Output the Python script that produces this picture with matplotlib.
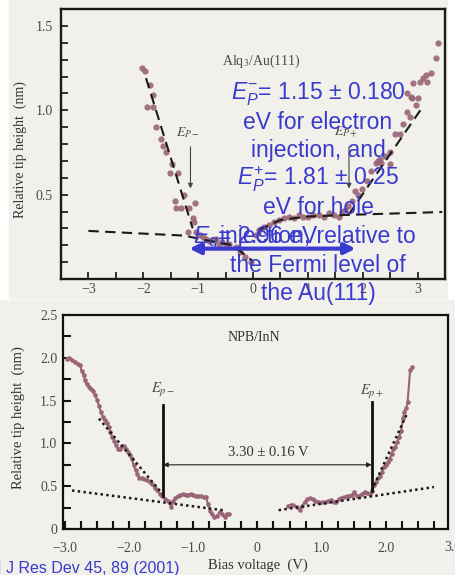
import matplotlib
matplotlib.use("Agg")
import matplotlib.pyplot as plt
from matplotlib.patches import Rectangle

plt.rcParams['mathtext.fontset'] = 'custom'
plt.rcParams['mathtext.rm'] = 'Liberation Sans'
plt.rcParams['mathtext.it'] = 'Liberation Sans:italic'
plt.rcParams['mathtext.bf'] = 'Liberation Sans:bold'

# ---- top panel: Alq3/Au(111) ----
alq_x = [-2.02, -1.97, -1.88, -1.83, -1.93, -1.82, -1.76, -1.68, -1.64, -1.58,
         -1.48, -1.52, -1.37, -1.25, -1.43, -1.05, -1.40, -1.31, -1.16, -1.10,
         -1.07, -1.19, -1.04, -0.97, -0.92, -0.86, -0.80, -0.74, -0.68, -0.62,
         -0.56, -0.50, -0.43, -0.31, -0.23, -0.14, -0.04,
         0.05, 0.11, 0.20, 0.29, 0.38, 0.47, 0.56, 0.65, 0.74, 0.83,
         0.92, 1.01, 1.10, 1.20, 1.29, 1.38, 1.47, 1.56, 1.62, 1.68,
         1.74, 1.80, 1.86, 1.92, 1.98, 2.07, 2.16, 2.25, 2.28, 2.31,
         2.34, 2.40, 2.49, 2.49, 2.59, 2.68, 2.74, 2.80, 2.86, 2.88,
         2.98, 2.80, 2.89, 3.01, 2.92, 3.05, 3.10, 3.16, 3.18, 3.25,
         3.34, 3.37]
alq_y = [1.25, 1.23, 1.15, 1.09, 1.02, 1.02, 0.90, 0.83, 0.79, 0.75,
         0.68, 0.63, 0.63, 0.50, 0.46, 0.45, 0.42, 0.42, 0.42, 0.36,
         0.34, 0.28, 0.28, 0.26, 0.25, 0.24, 0.225, 0.23, 0.24, 0.21,
         0.22, 0.20, 0.21, 0.19, 0.16, 0.13, 0.10,
         0.26, 0.29, 0.31, 0.32, 0.34, 0.35, 0.36, 0.37, 0.36, 0.38,
         0.37, 0.37, 0.38, 0.38, 0.37, 0.39, 0.38, 0.37, 0.40, 0.41,
         0.43, 0.46, 0.52, 0.50, 0.535, 0.58, 0.64, 0.69, 0.70, 0.71,
         0.69, 0.73, 0.68, 0.75, 0.86, 0.86, 0.92, 0.99, 0.96, 1.08,
         1.03, 1.10, 1.07, 1.07, 1.16, 1.17, 1.19, 1.21, 1.17, 1.22,
         1.31, 1.40]

alq_fit_left_x = [-1.95, -1.10]
alq_fit_left_y = [1.19, 0.30]
alq_base_left_x = [-3.0, -1.25, -0.86, -0.37, -0.02]
alq_base_left_y = [0.285, 0.257, 0.23, 0.20, 0.11]
alq_base_right_x = [0.10, 0.50, 1.00, 1.74, 3.45]
alq_base_right_y = [0.29, 0.35, 0.37, 0.38, 0.397]
alq_fit_right_x = [1.74, 3.05]
alq_fit_right_y = [0.38, 1.00]

# ---- bottom panel: NPB/InN ----
npb_left_x = [-2.97, -2.93, -2.89, -2.85, -2.80, -2.77, -2.74, -2.71, -2.69, -2.66,
              -2.62, -2.59, -2.56, -2.53, -2.50, -2.47, -2.44, -2.41, -2.38, -2.35,
              -2.32, -2.29, -2.26, -2.23, -2.20, -2.17, -2.14, -2.11, -2.08, -2.05,
              -2.02, -1.99, -1.96, -1.93, -1.90, -1.87, -1.84, -1.80, -1.76, -1.72,
              -1.68, -1.64, -1.60, -1.56, -1.52, -1.48, -1.44, -1.40, -1.37, -1.34,
              -1.31, -1.28, -1.24, -1.20, -1.16, -1.12, -1.08, -1.04, -1.00, -0.96,
              -0.92, -0.88, -0.84, -0.80, -0.77, -0.74, -0.71, -0.67, -0.63, -0.59,
              -0.55, -0.51, -0.48, -0.45]
npb_left_y = [1.99, 2.00, 1.98, 1.95, 1.93, 1.92, 1.85, 1.80, 1.74, 1.69,
              1.66, 1.64, 1.61, 1.57, 1.51, 1.44, 1.37, 1.31, 1.27, 1.24,
              1.19, 1.13, 1.07, 1.03, 0.98, 0.93, 0.94, 0.97, 0.97, 0.94,
              0.90, 0.87, 0.82, 0.75, 0.69, 0.64, 0.60, 0.59, 0.58, 0.57,
              0.55, 0.52, 0.48, 0.45, 0.41, 0.38, 0.35, 0.33, 0.30, 0.26,
              0.33, 0.36, 0.38, 0.40, 0.41, 0.40, 0.40, 0.41, 0.40, 0.38,
              0.39, 0.38, 0.37, 0.37, 0.29, 0.21, 0.17, 0.14, 0.15, 0.20,
              0.17, 0.14, 0.18, 0.17]
npb_right_x = [0.48, 0.52, 0.56, 0.61, 0.66, 0.70, 0.74, 0.78, 0.82, 0.86,
               0.90, 0.95, 1.00, 1.05, 1.10, 1.15, 1.19, 1.23, 1.27, 1.31,
               1.35, 1.39, 1.43, 1.47, 1.51, 1.55, 1.59, 1.63, 1.67, 1.71,
               1.75, 1.79, 1.82, 1.85, 1.88, 1.91, 1.94, 1.97, 2.00, 2.03,
               2.06, 2.09, 2.12, 2.15, 2.18, 2.21, 2.24, 2.27, 2.29, 2.32,
               2.34, 2.38, 2.41]
npb_right_y = [0.27, 0.28, 0.28, 0.26, 0.22, 0.27, 0.32, 0.35, 0.36, 0.35,
               0.33, 0.32, 0.31, 0.31, 0.33, 0.34, 0.31, 0.32, 0.35, 0.36,
               0.37, 0.38, 0.38, 0.40, 0.43, 0.39, 0.39, 0.41, 0.43, 0.42,
               0.41, 0.44, 0.51, 0.55, 0.59, 0.62, 0.67, 0.72, 0.75, 0.78,
               0.82, 0.88, 0.93, 0.96, 1.02, 1.08, 1.15, 1.30, 1.37, 1.41,
               1.48, 1.86, 1.89]

npb_fits = [([-2.47, -1.48], [1.29, 0.41]),
            ([-2.89, -0.54], [0.45, 0.22]),
            ([0.33, 2.75], [0.22, 0.49]),
            ([1.78, 2.34], [0.45, 1.36])]
ep_minus, ep_plus = -1.47, 1.78

W, H = 456, 575
cream = '#f1f0ea'
dot = '#9a6478'
blue = '#3a3acf'
grey = '#4a4a4a'
serif = 'Liberation Serif'

fig = plt.figure(figsize=(W / 100, H / 100), dpi=100, facecolor='white')
fig.patches.append(Rectangle((9 / W, 1 - 298 / H), 438 / W, 298 / H,
                             transform=fig.transFigure, color=cream, zorder=-5))
fig.patches.append(Rectangle((0, 0), 1, 1 - 300 / H,
                             transform=fig.transFigure, color=cream, zorder=-5))


def px(x, y):
    return x / W, 1 - y / H


# top axes
ax1 = fig.add_axes([61 / W, 1 - 279 / H, 384 / W, 270 / H])
ax1.set_facecolor('none')
ax1.plot(alq_x, alq_y, 'o', color=dot, ms=4.5, mec='none', alpha=0.9)
for xs, ys in [(alq_fit_left_x, alq_fit_left_y), (alq_base_left_x, alq_base_left_y),
               (alq_base_right_x, alq_base_right_y), (alq_fit_right_x, alq_fit_right_y)]:
    ax1.plot(xs, ys, color='#1a1a1a', lw=1.5, ls=(0, (5, 3)))
ax1.set_xlim(-3.5, 3.5)
ax1.set_ylim(0, 1.6)
ax1.set_xticks([-3, -2, -1, 0, 1, 2, 3], ['\u22123', '\u22122', '\u22121', '0', '1', '2', '3'])
ax1.set_xticks([-2.5, -1.5, -0.5, 0.5, 1.5, 2.5], minor=True)
ax1.set_yticks([0.5, 1.0, 1.5], ['0.5', '1.0', '1.5'])
ax1.set_yticks([0.1, 0.2, 0.3, 0.4, 0.6, 0.7, 0.8, 0.9, 1.1, 1.2, 1.3, 1.4], minor=True)
ax1.tick_params(which='both', direction='in', length=5, width=1.3, color='#222222')
ax1.tick_params(axis='x', pad=3, labelsize=10, labelcolor=grey)
ax1.tick_params(axis='y', pad=6, labelsize=10, labelcolor=grey)
for lab in ax1.get_xticklabels() + ax1.get_yticklabels():
    lab.set_family(serif)
for sp in ax1.spines.values():
    sp.set_linewidth(1.7)
    sp.set_color('#1a1a1a')
ax1.text(0.15, 1.29, r'Alq$_3$/Au(111)', ha='center', va='center', fontsize=10,
         family=serif, color=grey, math_fontfamily='stix')
for xa, lab in [(-1.14, r'$E_{P-}$'), (1.75, r'$E_{P+}$')]:
    ax1.text(xa - 0.05, 0.87, lab, ha='center', va='center', fontsize=10,
             color=grey, math_fontfamily='stix')
    ax1.annotate('', xy=(xa, 0.52), xytext=(xa, 0.80),
                 arrowprops=dict(arrowstyle='-|>', color='#444444', lw=0.8,
                                 mutation_scale=7))

# bottom axes
ax2 = fig.add_axes([63 / W, 1 - 529 / H, 385 / W, 214 / H])
ax2.set_facecolor('none')
ax2.plot(npb_left_x, npb_left_y, '-o', color=dot, ms=3.3, lw=1.5, mec='none')
ax2.plot(npb_right_x, npb_right_y, '-o', color=dot, ms=3.3, lw=1.5, mec='none')
for xs, ys in npb_fits:
    ax2.plot(xs, ys, color='#1a1a1a', lw=1.8, ls=(0, (1, 1.3)))
ax2.plot([ep_minus, ep_minus], [0.38, 1.45], color='#111111', lw=2)
ax2.plot([ep_plus, ep_plus], [0.44, 1.48], color='#111111', lw=2)
ax2.annotate('', xy=(ep_minus, 0.75), xytext=(ep_plus, 0.75),
             arrowprops=dict(arrowstyle='<|-|>', color='#222222', lw=0.8,
                             mutation_scale=7, shrinkA=0, shrinkB=0))
ax2.text(0.17, 0.89, '3.30 \u00b1 0.16 V', ha='center', va='center', fontsize=10.5,
         family=serif, color='#333333')
ax2.text(-0.05, 2.24, 'NPB/InN', ha='center', va='center', fontsize=10,
         family=serif, color='#333333')
ax2.text(ep_minus, 1.62, r'$E_{p-}$', ha='center', va='center', fontsize=10.5,
         color=grey, math_fontfamily='stix')
ax2.text(ep_plus, 1.60, r'$E_{p+}$', ha='center', va='center', fontsize=10.5,
         color=grey, math_fontfamily='stix')
ax2.set_xlim(-3.03, 2.97)
ax2.set_ylim(0, 2.5)
ax2.set_xticks([-3, -2, -1, 0, 1, 2], ['\u22123.0', '\u22122.0', '\u22121.0', '0', '1.0', '2.0'])
ax2.set_xticks([-2.75, -2.5, -2.25, -1.75, -1.5, -1.25, -0.75, -0.5, -0.25,
                0.25, 0.5, 0.75, 1.25, 1.5, 1.75, 2.25, 2.5, 2.75], minor=True)
ax2.set_yticks([0, 0.5, 1.0, 1.5, 2.0, 2.5], ['0', '0.5', '1.0', '1.5', '2.0', '2.5'])
ax2.set_yticks([0.25, 0.75, 1.25, 1.75, 2.25], minor=True)
ax2.tick_params(which='both', direction='in', length=6, width=1.5, color='#111111')
ax2.tick_params(axis='x', pad=9, labelsize=10, labelcolor=grey)
ax2.tick_params(axis='y', pad=4, labelsize=10, labelcolor=grey)
for lab in ax2.get_xticklabels() + ax2.get_yticklabels():
    lab.set_family(serif)
for sp in ax2.spines.values():
    sp.set_linewidth(1.6)
    sp.set_color('#111111')
# the 3.0 label sits past the cropped right edge of the scan
ax2.text(3.05, -0.058, '3.0', transform=ax2.get_xaxis_transform(), ha='center',
         va='top', fontsize=10, family=serif, color=grey, clip_on=False)

# axis labels
fig.text(*px(20, 150), 'Relative tip height  (nm)', rotation=90, ha='center',
         va='center', fontsize=10, family=serif, color='#333333')
fig.text(*px(18, 418), 'Relative tip height  (nm)', rotation=90, ha='center',
         va='center', fontsize=10.5, family=serif, color='#333333')
fig.text(*px(258, 565), 'Bias voltage  (V)', ha='center', va='center',
         fontsize=10.5, family=serif, color='#333333')

# blue overlay annotation
blue_lines = [r'$E_P^{-}$= 1.15 ' + '\u00b1 0.180',
              'eV for electron',
              'injection, and',
              r'$E_P^{+}$= 1.81 ' + '\u00b1 0.25',
              'eV for hole',
              'injection, relative to',
              'the Fermi level of',
              'the Au(111)']
for i, line in enumerate(blue_lines):
    fig.text(*px(318, 100 + 28.6 * i), line, ha='center', va='baseline',
             fontsize=16.5, family='Liberation Sans', color=blue, zorder=10)
fig.text(*px(193, 243), r'$E_g$= 2.96 eV', ha='left', va='baseline',
         fontsize=16.5, family='Liberation Sans', color=blue, zorder=10)
ax1.annotate('', xy=(-1.16, 0.18), xytext=(1.87, 0.18),
             arrowprops=dict(arrowstyle='<|-|>', color=blue, lw=3,
                             mutation_scale=16, shrinkA=0, shrinkB=0), zorder=10)

fig.text(*px(180, 569), 'IBM J Res Dev 45, 89 (2001)', ha='right', va='center',
         fontsize=11.5, family='Liberation Sans', color=blue)

fig.savefig('out.png', dpi=100, facecolor=fig.get_facecolor())
